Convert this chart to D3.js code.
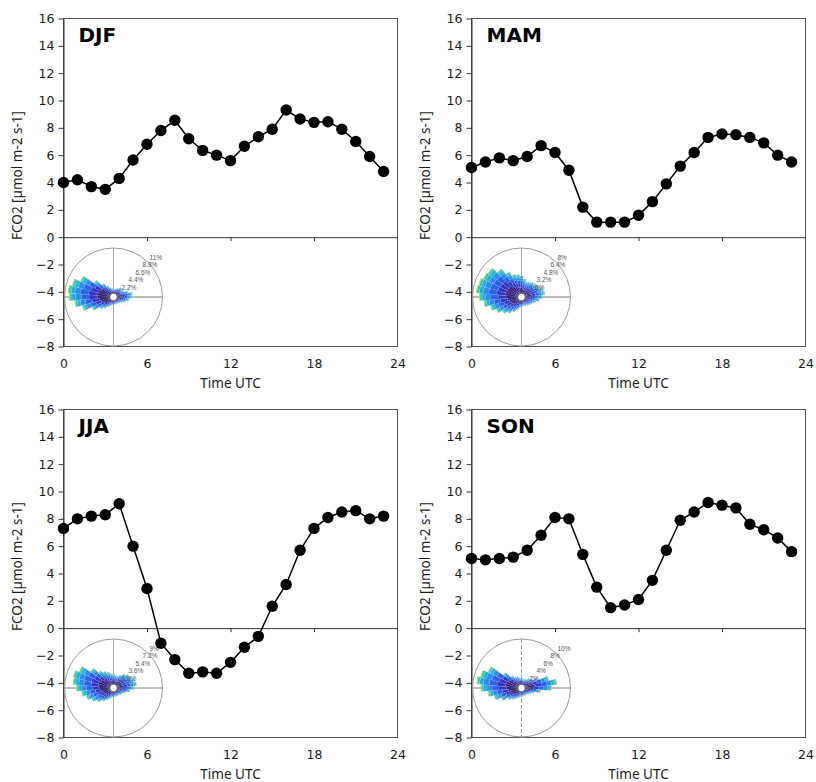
<!DOCTYPE html>
<html><head><meta charset="utf-8">
<script src="https://cdn.jsdelivr.net/npm/d3@7"></script>
<style>body{margin:0;background:#fff}svg{display:block}</style>
</head><body><svg id="c" width="816" height="782"></svg>
<script>
// ---------- data ----------
const hours = [0,1,2,3,4,5,6,7,8,9,10,11,12,13,14,15,16,17,18,19,20,21,22,23];
const seasons = ["DJF","MAM","JJA","SON"];
const fcoDJF = [4.0,4.2,3.7,3.5,4.3,5.65,6.8,7.8,8.55,7.2,6.35,6.0,5.6,6.65,7.35,7.9,9.3,8.65,8.4,8.45,7.9,7.0,5.9,4.8];
const fcoMAM = [5.1,5.5,5.8,5.6,5.9,6.7,6.2,4.9,2.2,1.1,1.1,1.1,1.6,2.6,3.9,5.2,6.2,7.3,7.55,7.5,7.3,6.9,6.0,5.5];
const fcoJJA = [7.3,8.0,8.2,8.3,9.1,6.0,2.9,-1.1,-2.3,-3.3,-3.2,-3.3,-2.5,-1.4,-0.6,1.6,3.2,5.7,7.3,8.1,8.5,8.6,8.0,8.2];
const fcoSON = [5.1,5.0,5.1,5.2,5.7,6.8,8.1,8.0,5.4,3.0,1.5,1.7,2.1,3.5,5.7,7.9,8.5,9.2,9.0,8.8,7.6,7.2,6.6,5.6];
const yTicks = [-8,-6,-4,-2,0,2,4,6,8,10,12,14,16];
const xTicks = [0,6,12,18,24];
const xMinorTicks = [6,12,18];
const xLabel = "Time UTC";
const yLabel = "FCO2 [µmol m-2 s-1]";

// wind rose: direction bins (deg from N) and frequency (%)
const roseDirs = [0,10,20,30,40,50,60,70,80,90,100,110,120,130,140,150,160,170,180,190,200,210,220,230,240,250,260,270,280,290,300,310,320,330,340,350];
const roseDJF = [1.0,1.0,1.2,1.5,2.0,1.8,2.0,2.8,3.8,3.6,3.0,2.2,1.6,1.2,1.0,0.9,0.9,0.9,1.0,1.1,1.4,1.8,2.6,3.4,5.0,7.2,8.8,10.2,10.5,9.8,8.2,5.0,3.2,2.2,1.6,1.2];
const roseMAM = [3.2,2.6,2.2,2.4,2.6,2.8,3.0,3.4,3.6,3.2,2.6,2.0,1.6,1.4,1.2,1.0,1.0,1.0,1.1,1.3,1.8,2.4,3.0,3.6,4.4,5.2,6.2,7.0,7.6,7.4,7.0,6.8,5.6,4.4,3.6,3.4];
const roseJJA = [2.0,1.8,1.8,2.2,2.8,3.2,3.4,3.8,4.0,3.4,2.6,1.8,1.4,1.2,1.0,1.0,1.0,1.0,1.1,1.2,1.5,2.0,2.6,3.4,4.2,5.0,5.8,6.8,7.6,7.8,7.0,5.0,3.6,3.0,2.6,2.2];
const roseSON = [1.4,1.2,1.2,1.4,1.8,2.2,3.2,5.6,7.2,6.0,3.6,2.2,1.6,1.2,1.0,1.0,1.0,1.0,1.1,1.2,1.5,1.9,2.4,3.0,4.2,5.6,6.8,8.4,9.4,8.8,7.6,4.2,2.6,2.0,1.8,1.5];
// share of each wind-speed class in every bar
const speedShare = [0.30,0.20,0.19,0.14,0.09,0.06,0.02];
const speedColors = ["#2b1a78","#3333c6","#2a62e6","#2f8ce8","#22b2d8","#3ec6a6","#b8c84a"];
const ringMaxDJF = 11, ringMaxMAM = 8, ringMaxJJA = 9, ringMaxSON = 10;
const ringLabelsDJF = ["2.2%","4.4%","6.6%","8.8%","11%"];
const ringLabelsMAM = ["1.6%","3.2%","4.8%","6.4%","8%"];
const ringLabelsJJA = ["1.8%","3.6%","5.4%","7.2%","9%"];
const ringLabelsSON = ["2%","4%","6%","8%","10%"];

// ---------- layout ----------
const panels = [
  {name:seasons[0], vals:fcoDJF, rose:roseDJF, ringMax:ringMaxDJF, rings:ringLabelsDJF, L:63.5, R:397.5, T:18.5, B:346.5, dash:false},
  {name:seasons[1], vals:fcoMAM, rose:roseMAM, ringMax:ringMaxMAM, rings:ringLabelsMAM, L:471.5, R:805.5, T:18.5, B:346.5, dash:false},
  {name:seasons[2], vals:fcoJJA, rose:roseJJA, ringMax:ringMaxJJA, rings:ringLabelsJJA, L:63.5, R:397.5, T:409.5, B:737.5, dash:false},
  {name:seasons[3], vals:fcoSON, rose:roseSON, ringMax:ringMaxSON, rings:ringLabelsSON, L:471.5, R:805.5, T:409.5, B:737.5, dash:true}
];

const svg = d3.select("#c");
const tickFont = "'DejaVu Sans', Verdana, sans-serif";
const labFont = "'Noto Sans', 'Open Sans', sans-serif";
const smallFont = "'Liberation Sans', Arial, sans-serif";

panels.forEach(p => {
  const g = svg.append("g");
  const x = d3.scaleLinear().domain([0,24]).range([p.L,p.R]);
  const y = d3.scaleLinear().domain([-8,16]).range([p.B,p.T]);

  // frame
  g.append("rect").attr("x",p.L).attr("y",p.T).attr("width",p.R-p.L).attr("height",p.B-p.T)
    .attr("fill","none").attr("stroke","#555").attr("stroke-width",1);

  // y axis
  const ya = g.append("g").attr("transform",`translate(${p.L},0)`)
    .call(d3.axisLeft(y).tickValues(yTicks).tickSize(5).tickPadding(4).tickSizeOuter(0));
  ya.select(".domain").attr("stroke","#333");
  ya.selectAll(".tick line").attr("stroke","#333");
  ya.selectAll("text").attr("font-family",tickFont).attr("font-size",12.5).attr("fill","#1a1a1a");

  // x tick labels at the bottom
  const xa = g.append("g").attr("transform",`translate(0,${p.B})`)
    .call(d3.axisBottom(x).tickValues(xTicks).tickSize(0).tickPadding(13));
  xa.select(".domain").remove();
  xa.selectAll("text").attr("font-family",tickFont).attr("font-size",12.5).attr("fill","#1a1a1a");

  // zero line with ticks
  const za = g.append("g").attr("transform",`translate(0,${y(0)})`)
    .call(d3.axisBottom(x).tickValues(xMinorTicks).tickSize(4).tickSizeOuter(0).tickFormat(""));
  za.select(".domain").attr("stroke","#333");
  za.selectAll(".tick line").attr("stroke","#333");

  // axis titles
  g.append("text").attr("x",(p.L+p.R)/2).attr("y",p.B+41).attr("text-anchor","middle")
    .attr("font-family",labFont).attr("font-size",13.5).attr("fill","#1a1a1a").text(xLabel);
  g.append("text").attr("transform",`translate(${p.L-42},${(p.T+p.B)/2-7}) rotate(-90)`)
    .attr("text-anchor","middle").attr("font-family",labFont).attr("font-size",13.5)
    .attr("fill","#1a1a1a").text(yLabel);

  // season title
  g.append("text").attr("x",p.L+15).attr("y",p.T+23).attr("font-family",tickFont)
    .attr("font-weight","bold").attr("font-size",20).attr("fill","#000").text(p.name);

  // wind rose inset
  const R = 49;
  const cx = p.L + 50, cy = p.B - 49.5;
  const rg = g.append("g").attr("transform",`translate(${cx},${cy})`);
  rg.append("circle").attr("r",R).attr("fill","none").attr("stroke","#9a9a9a").attr("stroke-width",1);
  rg.append("line").attr("x1",0).attr("x2",0).attr("y1",-R).attr("y2",R)
    .attr("stroke",p.dash?"#999":"#aaa").attr("stroke-width",1).attr("stroke-dasharray",p.dash?"4,2":null);
  rg.append("line").attr("x1",-R).attr("x2",R).attr("y1",0).attr("y2",0)
    .attr("stroke","#777").attr("stroke-width",1);
  const rs = d3.scaleLinear().domain([0,p.ringMax]).range([4,48]);
  const arc = d3.arc();
  const segs = [];
  roseDirs.forEach((d,i) => {
    let cum = 0;
    speedShare.forEach((s,k) => {
      const v = p.rose[i]*s;
      segs.push({dir:d, lo:cum, hi:cum+v, k});
      cum += v;
    });
  });
  rg.selectAll("path.seg").data(segs).join("path").attr("class","seg")
    .attr("d", s => arc({innerRadius:rs(s.lo), outerRadius:rs(s.hi),
        startAngle:(s.dir-5)*Math.PI/180, endAngle:(s.dir+5)*Math.PI/180}))
    .attr("fill", s => speedColors[s.k])
    .attr("stroke","rgba(255,255,255,0.18)").attr("stroke-width",0.4);
  rg.append("circle").attr("r",3.8).attr("fill","#fff").attr("stroke","#111").attr("stroke-width",0.6);
  rg.append("text").attr("x",-9).attr("y",5).attr("font-family",smallFont).attr("font-size",6.5)
    .attr("fill","#222").text("0");
  // ring labels staggered along the NE diagonal
  p.rings.forEach((lab,i) => {
    rg.append("text").attr("x",8 + 7*i).attr("y",-(7 + 7.6*i))
      .attr("font-family",smallFont).attr("font-size",6.5).attr("fill","#555").text(lab);
  });

  // series
  g.append("path").datum(p.vals)
    .attr("d", d3.line().x((v,i)=>x(hours[i])).y(v=>y(v)))
    .attr("fill","none").attr("stroke","#000").attr("stroke-width",1.5);
  g.selectAll("circle.pt").data(p.vals).join("circle").attr("class","pt")
    .attr("cx",(v,i)=>x(hours[i])).attr("cy",v=>y(v)).attr("r",5.7).attr("fill","#000");
});
</script></body></html>
